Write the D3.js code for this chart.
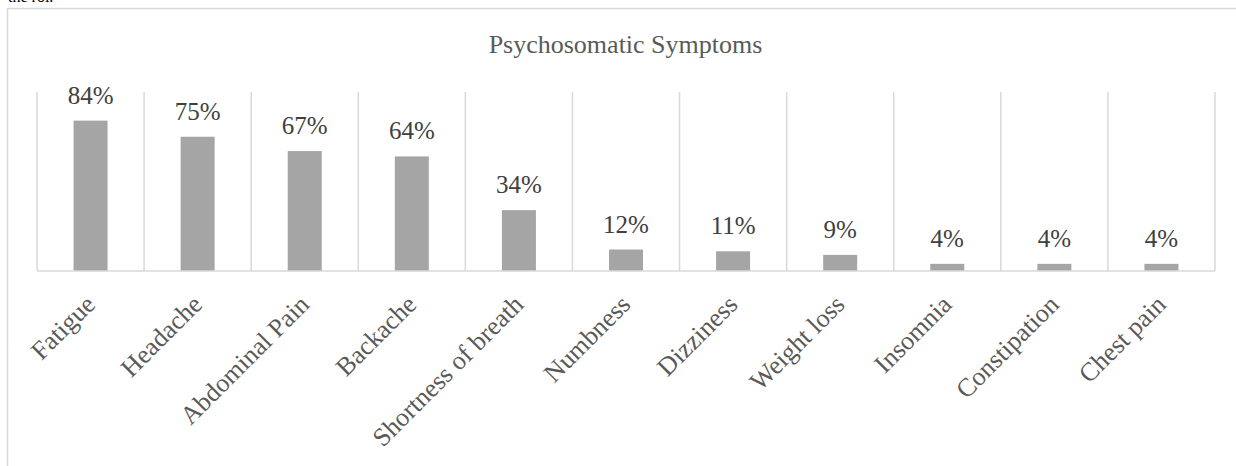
<!DOCTYPE html>
<html>
<head>
    <meta charset="utf-8">
    <title>Psychosomatic Symptoms</title>
    <script src="https://d3js.org/d3.v7.min.js"></script>
    <style>
        body { margin: 0; background: #fff; }
        svg { display: block; }
    </style>
</head>
<body>
    <svg width="1236" height="466" id="chart"></svg>
<script>
var categories = ['Fatigue', 'Headache', 'Abdominal Pain', 'Backache', 'Shortness of breath',
    'Numbness', 'Dizziness', 'Weight loss', 'Insomnia', 'Constipation', 'Chest pain'];
var values = [0.84, 0.75, 0.67, 0.64, 0.34, 0.12, 0.11, 0.09, 0.04, 0.04, 0.04];
var chartTitle = 'Psychosomatic Symptoms';
var topText = 'the roi.';

var svg = d3.select('#chart'),
    plotLeft = 37, plotRight = 1215, plotTop = 92, plotBottom = 271;

var font = "'Liberation Serif', 'Times New Roman', serif";

// bit of the page text above the chart box
svg.append('text')
    .attr('x', 8).attr('y', 2)
    .attr('font-family', font)
    .attr('font-size', 16)
    .attr('fill', '#000')
    .text(topText);

// chart box (runs off the right and bottom of the picture)
svg.append('rect')
    .attr('x', 7.5).attr('y', 8.5)
    .attr('width', 1260).attr('height', 480)
    .attr('fill', 'none')
    .attr('stroke', '#d9d9d9')
    .attr('stroke-width', 1.5);

svg.append('text')
    .attr('x', 625.5).attr('y', 53)
    .attr('text-anchor', 'middle')
    .attr('font-family', font)
    .attr('font-size', 26)
    .attr('fill', '#595959')
    .text(chartTitle);

var x = d3.scaleBand().domain(categories).range([plotLeft, plotRight]);
var y = d3.scaleLinear().domain([0, 1]).range([plotBottom, plotTop]);

// vertical gridlines between categories
var edges = categories.map(function(d) { return x(d); }).concat([plotRight]);
svg.append('g').selectAll('line')
    .data(edges)
    .enter()
    .append('line')
    .attr('x1', function(d) { return d; })
    .attr('x2', function(d) { return d; })
    .attr('y1', y(1))
    .attr('y2', y(0))
    .attr('stroke', '#d9d9d9')
    .attr('stroke-width', 1.5);

var barW = 34;
svg.append('g').selectAll('rect')
    .data(values)
    .enter()
    .append('rect')
    .attr('x', function(d, i) { return x(categories[i]) + x.bandwidth() / 2 - barW / 2; })
    .attr('y', function(d) { return y(d); })
    .attr('width', barW)
    .attr('height', function(d) { return y(0) - y(d); })
    .attr('fill', '#a5a5a5');

// x axis line
svg.append('line')
    .attr('x1', plotLeft).attr('x2', plotRight)
    .attr('y1', y(0)).attr('y2', y(0))
    .attr('stroke', '#d9d9d9')
    .attr('stroke-width', 1.5);

svg.append('g').selectAll('text')
    .data(values)
    .enter()
    .append('text')
    .attr('x', function(d, i) { return x(categories[i]) + x.bandwidth() / 2; })
    .attr('y', function(d) { return y(d) - 17; })
    .attr('text-anchor', 'middle')
    .attr('font-family', font)
    .attr('font-size', 25)
    .attr('fill', '#404040')
    .text(function(d) { return d3.format('.0%')(d); });

svg.append('g').selectAll('text')
    .data(categories)
    .enter()
    .append('text')
    .attr('transform', function(d) {
        return 'translate(' + (x(d) + x.bandwidth() / 2 + 6) + ',' + (plotBottom + 35) + ') rotate(-45)';
    })
    .attr('text-anchor', 'end')
    .attr('font-family', font)
    .attr('font-size', 26)
    .attr('fill', '#595959')
    .text(function(d) { return d; });
</script>
</body>
</html>
